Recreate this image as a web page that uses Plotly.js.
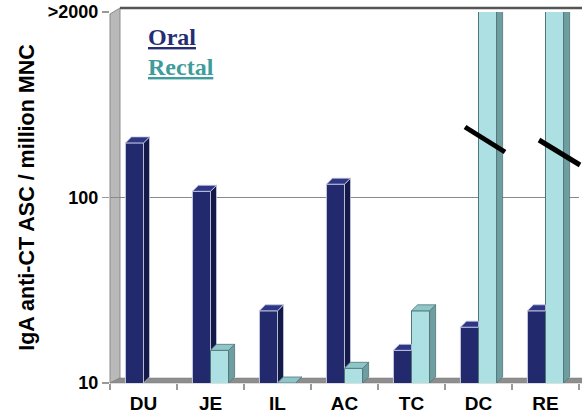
<!DOCTYPE html>
<html><head><meta charset="utf-8">
<script src="https://cdn.plot.ly/plotly-3.0.1.min.js"></script>
<style>html,body{margin:0;padding:0;background:#fff}#chart{width:582px;height:415px}</style>
</head><body><div id="chart"></div>
<script>
const categories = ['DU','JE','IL','AC','TC','DC','RE'];
const oral = [197, 108, 24.5, 118, 15, 20, 24.5];
const rectal = [null, 15, 10, 12, 24.5, 2000, 2000];
const yTickVals = [10, 100, 1000];
const yTickText = ['10', '100', '>2000'];
const seriesNames = ['Oral', 'Rectal'];

const W = 582, H = 415;
const M = {l:110, r:3, t:12, b:32};
const pw = W - M.l - M.r, ph = H - M.t - M.b;
const BW = 0.27, DX = 0.09, F = Math.pow(10, 6/185.5);
const YMAX = 1000, YMIN = 10;
const xs = categories.map((c,i)=>i);
const cap = v => v == null ? null : Math.min(v, YMAX);

function px(x,y){ return [(x-M.l)/pw, (H-M.b-y)/ph]; }
function pathPx(pts){ return pts.map((p,i)=>{const q=px(p[0],p[1]);return (i?'L':'M')+q[0].toFixed(4)+','+q[1].toFixed(4);}).join(' ')+' Z'; }

function sidePoly(vals, offs, otherVals){
  const X=[],Y=[];
  vals.forEach((v,i)=>{
    if(v==null) return;
    const vv=cap(v);
    let lo = YMIN;
    if(otherVals){ const o=otherVals[i]; if(o!=null){ if(o>=vv) return; lo=o; } }
    const R=i+offs+BW;
    X.push(R,R+DX,R+DX,R,R,null); Y.push(vv,vv*F,lo*F,lo,vv,null);
  });
  return {X,Y};
}
function topPoly(vals, offs, otherVals){
  const X=[],Y=[];
  vals.forEach((v,i)=>{
    if(v==null) return;
    const vv=cap(v);
    if(vv>=YMAX) return;
    const L=i+offs, R=L+BW;
    let RR=R+DX;
    if(otherVals && otherVals[i]!=null && otherVals[i]>vv) RR=R;
    X.push(L,L+DX,RR,R,L,null); Y.push(vv,vv*F,vv*F,vv,vv,null);
  });
  return {X,Y};
}

const oc = {front:'#222a6d', side:'#141a48', top:'#2e3785', line:'#c9cce2'};
const rc = {front:'#ade0e3', side:'#6f9ea1', top:'#90c6c9', line:'#4f7679'};

const os = sidePoly(oral, -BW, rectal), ot = topPoly(oral, -BW, rectal);
const rs = sidePoly(rectal, 0, null), rt = topPoly(rectal, 0, null);

const traces = [
  {type:'bar', name:seriesNames[0], x:xs, y:oral, width:BW, offset:-BW, marker:{color:oc.front, line:{color:oc.line, width:1}}, showlegend:false, hoverinfo:'skip'},
  {type:'bar', name:seriesNames[1], x:xs, y:rectal, width:BW, offset:0, marker:{color:rc.front, line:{color:rc.line, width:1}}, showlegend:false, hoverinfo:'skip'},
  {type:'scatter', mode:'lines', x:os.X, y:os.Y, fill:'toself', fillcolor:oc.side, line:{color:oc.line, width:0.8}, showlegend:false, hoverinfo:'skip'},
  {type:'scatter', mode:'lines', x:ot.X, y:ot.Y, fill:'toself', fillcolor:oc.top, line:{color:oc.line, width:0.8}, showlegend:false, hoverinfo:'skip'},
  {type:'scatter', mode:'lines', x:rs.X, y:rs.Y, fill:'toself', fillcolor:rc.side, line:{color:rc.line, width:0.8}, showlegend:false, hoverinfo:'skip'},
  {type:'scatter', mode:'lines', x:rt.X, y:rt.Y, fill:'toself', fillcolor:rc.top, line:{color:rc.line, width:0.8}, showlegend:false, hoverinfo:'skip'}
];

const fam = '"Liberation Sans", Arial, sans-serif';
const yTickFont = {family:fam, size:18, color:'#000', weight:700};
const xTickFont = {family:fam, size:19, color:'#000', weight:700};
const titleFont = {family:fam, size:21.5, color:'#000', weight:700};

const shapes = [
  {type:'path', xref:'paper', yref:'paper', layer:'between', path:pathPx([[110,383],[110,14],[120,8],[120,378]]), fillcolor:'#b9b9b9', line:{color:'#8a8a8a', width:1}},
  {type:'path', xref:'paper', yref:'paper', layer:'between', path:pathPx([[110,383],[120,378],[582,378],[582,383]]), fillcolor:'#8e8e8e', line:{color:'#7a7a7a', width:0.5}},
  {type:'line', xref:'paper', yref:'paper', layer:'between', x0:px(120,8)[0], y0:px(120,8)[1], x1:px(582,8)[0], y1:px(582,8)[1], line:{color:'#555', width:2.5}},
  {type:'line', xref:'paper', yref:'paper', layer:'above', x0:px(465,127)[0], y0:px(465,127)[1], x1:px(505,152)[0], y1:px(505,152)[1], line:{color:'#000', width:5}},
  {type:'line', xref:'paper', yref:'paper', layer:'above', x0:px(539,140)[0], y0:px(539,140)[1], x1:px(580,165)[0], y1:px(580,165)[1], line:{color:'#000', width:5}}
];

const serifB = {family:'"Liberation Serif", "Times New Roman", serif', size:24, weight:700};
const annotations = [
  {xref:'paper', yref:'paper', x:px(146,37)[0], y:px(146,37)[1], xanchor:'left', yanchor:'middle', showarrow:false, text:'<u>'+seriesNames[0]+'</u>', font:Object.assign({}, serifB, {color:'#262d72'})},
  {xref:'paper', yref:'paper', x:px(146,67)[0], y:px(146,67)[1], xanchor:'left', yanchor:'middle', showarrow:false, text:'<u>'+seriesNames[1]+'</u>', font:Object.assign({}, serifB, {color:'#3f9c9c'})}
];

const layout = {
  width:W, height:H, margin:M, paper_bgcolor:'#fff', plot_bgcolor:'#fff',
  barmode:'overlay', showlegend:false,
  xaxis:{range:[-0.5,6.5], tickvals:xs, ticktext:categories, ticks:'outside', ticklen:3, tickcolor:'rgba(0,0,0,0)',
         tickfont:xTickFont, showgrid:false, zeroline:false, showline:false, fixedrange:true, automargin:false,
         minor:{ticks:'outside', tick0:-0.5, dtick:1, ticklen:6, tickcolor:'#9a9a9a', tickwidth:1.5, showgrid:false}},
  yaxis:{type:'log', range:[Math.log10(YMIN), Math.log10(YMAX)], tickvals:yTickVals, ticktext:yTickText,
         ticks:'outside', ticklen:7, tickcolor:'#999', tickwidth:1.5, tickfont:yTickFont, automargin:false,
         showgrid:true, gridcolor:'#8a8a8a', gridwidth:1, zeroline:false, showline:false, fixedrange:true,
         title:{text:'IgA anti-CT ASC / million MNC', font:titleFont, standoff:7}},
  shapes, annotations
};

Plotly.newPlot('chart', traces, layout, {staticPlot:true, displayModeBar:false});
</script></body></html>
